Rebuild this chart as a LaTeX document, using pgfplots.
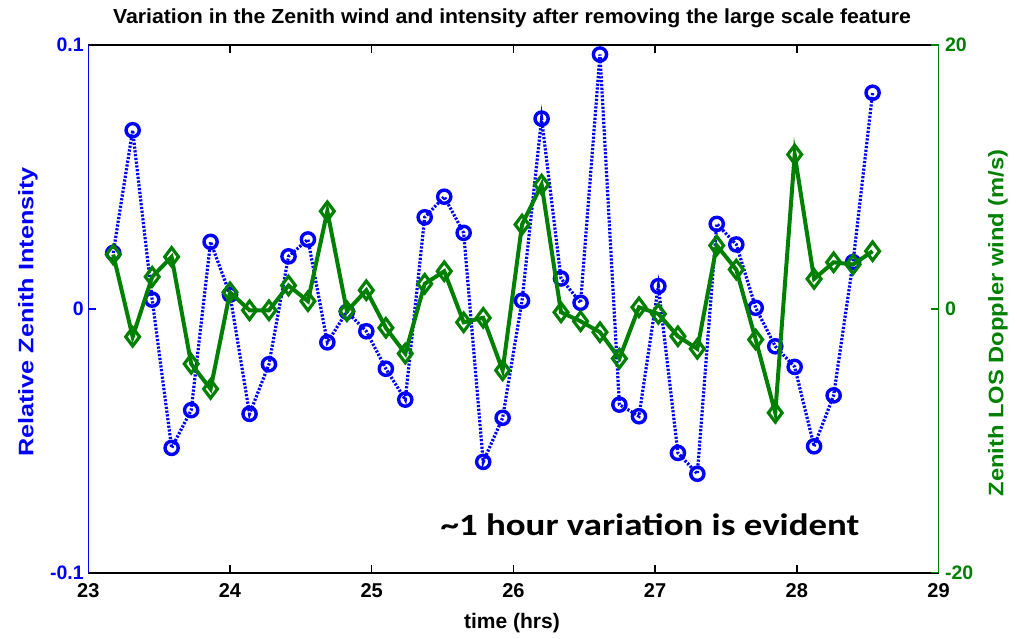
\documentclass[border=0pt]{standalone}
\usepackage{pgfplots}
\usepackage{pgfplotstable}
\usepackage{graphicx}
\pgfplotsset{compat=1.18}
\usepackage{fontspec}
\setmainfont{Liberation Sans}
\newfontfamily\annfont{Carlito}
\definecolor{mblue}{RGB}{0,0,255}
\definecolor{mgreen}{RGB}{0,128,0}

\pgfplotstableread{
x y
23.176 0.0212
23.313 0.0677
23.451 0.0035
23.588 -0.0527
23.726 -0.0384
23.863 0.0254
24.000 0.0054
24.138 -0.0398
24.275 -0.0210
24.413 0.0199
24.550 0.0263
24.687 -0.0127
24.825 -0.0011
24.962 -0.0085
25.100 -0.0227
25.237 -0.0344
25.374 0.0347
25.512 0.0425
25.649 0.0288
25.787 -0.0580
25.924 -0.0413
26.061 0.0031
26.199 0.0721
26.336 0.0115
26.474 0.0023
26.611 0.0964
26.748 -0.0363
26.886 -0.0407
27.023 0.0086
27.161 -0.0546
27.298 -0.0625
27.435 0.0322
27.573 0.0244
27.710 0.0004
27.848 -0.0142
27.985 -0.0220
28.122 -0.0521
28.260 -0.0328
28.397 0.0177
28.535 0.0819
}\intensity

\pgfplotstableread{
x y
23.176 4.12
23.313 -2.12
23.451 2.43
23.588 3.94
23.726 -4.17
23.863 -6.07
24.000 1.26
24.138 -0.11
24.275 -0.11
24.413 1.77
24.550 0.58
24.687 7.40
24.825 -0.18
24.962 1.41
25.100 -1.44
25.237 -3.39
25.374 1.90
25.512 2.85
25.649 -1.02
25.787 -0.68
25.924 -4.66
26.061 6.39
26.199 9.42
26.336 -0.26
26.474 -0.94
26.611 -1.77
26.748 -3.77
26.886 0.12
27.023 -0.38
27.161 -2.08
27.298 -3.03
27.435 4.80
27.573 2.98
27.710 -2.33
27.848 -7.88
27.985 11.70
28.122 2.27
28.260 3.53
28.397 3.36
28.535 4.37
}\wind

\begin{document}
\begin{tikzpicture}
\useasboundingbox (-88.3pt,-65.3pt) rectangle (928.7pt,572.7pt);
\begin{axis}[
  scale only axis, width=850.2pt, height=527.7pt,
  xmin=23, xmax=29, ymin=-0.1, ymax=0.1,
  axis y line*=left,
  y axis line style={-, mblue, line width=1.4pt},
  x axis line style={line width=1.6pt},
  xtick={23,24,25,26,27,28,29},
  xticklabels={23,24,25,26,27,28,29},
  ytick={-0.1,0,0.1},
  yticklabels={-0.1,0,0.1},
  tick align=inside,
  major tick length=8pt,
  x tick style={black, line width=1.4pt},
  y tick style={mblue, line width=1.4pt},
  xticklabel style={font=\bfseries\fontsize{20}{20}\selectfont, yshift=-7pt},
  yticklabel style={font=\bfseries\fontsize{19.5}{19.5}\selectfont, text=mblue, xshift=-1pt},
  clip=false,
]
\addplot[mblue, line width=3.2pt, dash pattern=on 2.2pt off 1.6pt,
  mark=o, mark size=6.6pt, mark options={solid, line width=3.4pt}]
  table[x=x, y=y] {\intensity};
\end{axis}
\begin{axis}[
  scale only axis, width=850.2pt, height=527.7pt,
  xmin=23, xmax=29, ymin=-20, ymax=20,
  axis x line=none,
  axis y line*=right,
  y axis line style={-, mgreen, line width=1.4pt},
  ytick={-20,0,20},
  yticklabels={-20,0,20},
  tick align=inside,
  major tick length=8pt,
  y tick style={mgreen, line width=1.4pt},
  yticklabel style={font=\bfseries\fontsize{19.5}{19.5}\selectfont, text=mgreen, xshift=3pt},
  clip=false,
]
\addplot[mgreen, line width=4pt,
  mark=diamond, mark size=9.2pt, mark options={solid, line width=3.2pt}]
  table[x=x, y=y] {\wind};
\end{axis}
\node[font=\bfseries\fontsize{18.5}{18.5}\selectfont] at (423.7pt,554.7pt) {\scalebox{1.15}[1.1]{Variation in the Zenith wind and intensity after removing the large scale feature}};
\node[font=\bfseries\fontsize{21}{21}\selectfont] at (423.7pt,-50.3pt) {time (hrs)};
\node[font=\bfseries\fontsize{21}{21}\selectfont, text=mblue, rotate=90] at (-60.3pt,260.7pt) {\scalebox{1.2}[1]{Relative Zenith Intensity}};
\node[font=\bfseries\fontsize{21}{21}\selectfont, text=mgreen, rotate=90] at (909.7pt,249.7pt) {\scalebox{1.13}[1]{Zenith LOS Doppler wind (m/s)}};
\node[font=\annfont\bfseries\fontsize{31}{31}\selectfont] at (561.7pt,47.7pt) {\scalebox{1.19}[1]{\textasciitilde 1 hour variation is evident}};
\end{tikzpicture}
\end{document}
